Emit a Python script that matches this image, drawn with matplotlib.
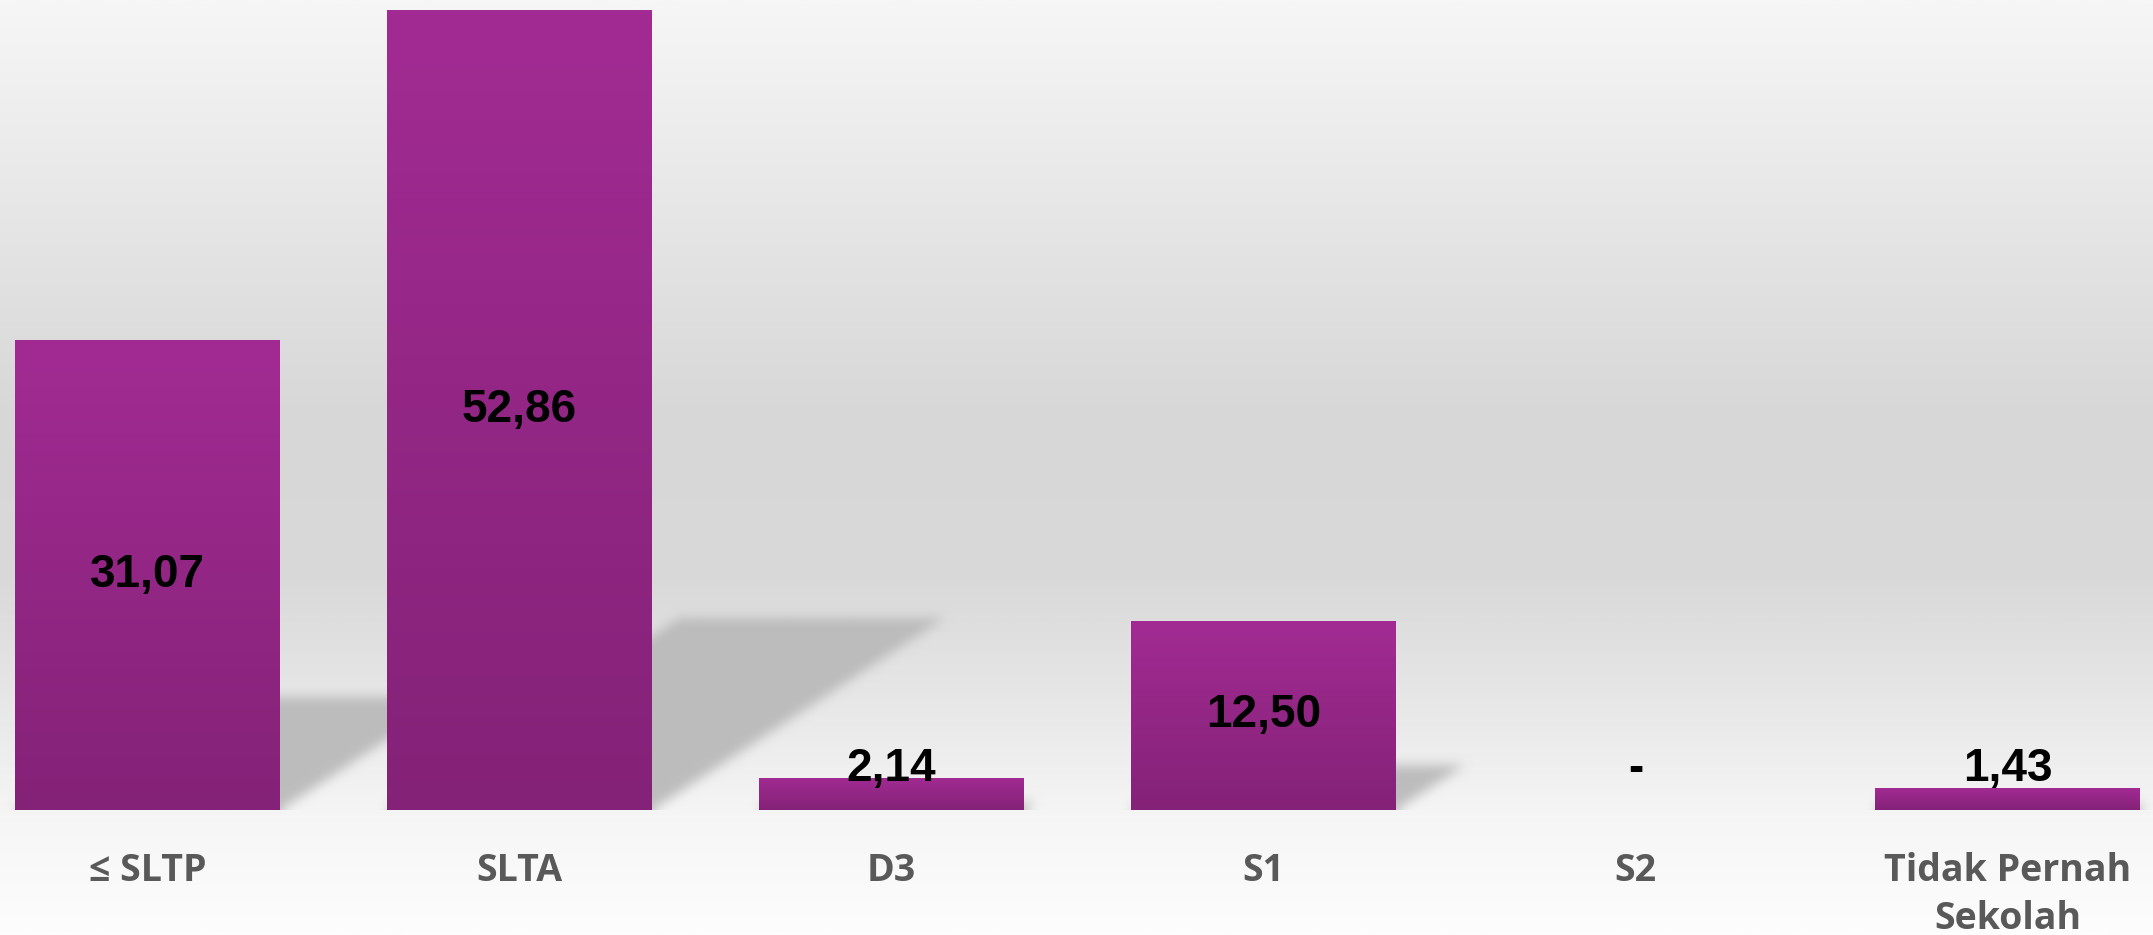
#!/usr/bin/env python3
"""Bar chart: share by education level, purple gradient bars with soft shadows."""

import matplotlib.pyplot as plt
import numpy as np
from matplotlib.colors import LinearSegmentedColormap

categories = ["≤ SLTP", "SLTA", "D3", "S1", "S2", "Tidak Pernah\nSekolah"]
values = [31.07, 52.86, 2.14, 12.50, 0.0, 1.43]
labels = ["31,07", "52,86", "2,14", "12,50", "-", "1,43"]

W, H, DPI = 2153, 935, 100
BAR_W = 0.712
TOP_C, BOT_C = "#a22b93", "#842277"


def box_blur(a, r, axis):
    c = np.cumsum(np.pad(a, [(r + 1, r) if i == axis else (0, 0) for i in range(a.ndim)], mode="edge"), axis=axis)
    n = a.shape[axis]
    hi = np.take(c, np.arange(2 * r + 1, 2 * r + 1 + n), axis=axis)
    lo = np.take(c, np.arange(0, n), axis=axis)
    return (hi - lo) / (2 * r + 1)


def main() -> None:
    fig = plt.figure(figsize=(W / DPI, H / DPI), dpi=DPI)

    # background gradient over the whole figure
    bg = fig.add_axes([0, 0, 1, 1], zorder=0)
    bg_cmap = LinearSegmentedColormap.from_list("bg", [
        (0.0, "#f6f6f6"), (0.12, "#eeeeee"), (0.33, "#dfdfdf"), (0.45, "#d7d7d7"),
        (0.62, "#d9d9d9"), (0.76, "#e8e8e8"), (0.88, "#f6f6f6"), (1.0, "#fdfdfd")])
    bg.imshow(np.linspace(0, 1, 512).reshape(-1, 1), cmap=bg_cmap, aspect="auto",
              extent=(0, 1, 1, 0), interpolation="bilinear")
    bg.set_axis_off()

    ax = fig.add_axes([0, 125 / H, 1, 810 / H], zorder=1)
    ax.patch.set_alpha(0)
    x = np.arange(len(categories))
    xlim = (-147.5 / 372, (W - 147.5) / 372)
    ylim = (0, 53.5)

    # blurred skewed shadows
    nx, ny = W, 810
    xs = xlim[0] + (np.arange(nx) + 0.5) / nx * (xlim[1] - xlim[0])
    ys = ylim[1] - (np.arange(ny) + 0.5) / ny * (ylim[1] - ylim[0])
    XX, YY = np.meshgrid(xs, ys)
    mask = np.zeros((ny, nx))
    skew = 0.062
    for xi, v in zip(x, values):
        if v <= 0:
            continue
        sh = 0.24 * v
        inside = (YY >= 0) & (YY <= sh) & (XX >= xi - BAR_W / 2 + skew * YY) & (XX <= xi + BAR_W / 2 + skew * YY)
        mask = np.maximum(mask, inside.astype(float))
    for _ in range(2):
        mask = box_blur(mask, 6, 0)
        mask = box_blur(mask, 6, 1)
    shadow = np.zeros((ny, nx, 4))
    shadow[..., :3] = 0.73
    shadow[..., 3] = mask * 0.95
    ax.imshow(shadow, extent=(xlim[0], xlim[1], ylim[0], ylim[1]), aspect="auto", zorder=1, interpolation="nearest")

    # bars with vertical gradient
    grad_cmap = LinearSegmentedColormap.from_list("bar", [BOT_C, TOP_C])
    bars = ax.bar(x, values, width=BAR_W, color="none", edgecolor="none", zorder=2)
    for b, v in zip(bars, values):
        if v <= 0:
            continue
        im = ax.imshow(np.linspace(1, 0, 256).reshape(-1, 1), cmap=grad_cmap, aspect="auto",
                       extent=(b.get_x(), b.get_x() + b.get_width(), 0, v), zorder=2, interpolation="bilinear")
        im.set_clip_path(b)

    for xi, v, lab in zip(x, values, labels):
        ax.text(xi, max(v / 2, 2.7), lab, ha="center", va="center", fontsize=33,
                fontweight="bold", family="Liberation Sans", color="black", zorder=3)

    ax.set_xlim(*xlim)
    ax.set_ylim(*ylim)
    ax.set_xticks(x)
    ax.set_xticklabels(categories, fontsize=27, fontweight="bold", family="Open Sans",
                       color="#595959", linespacing=1.37)
    ax.tick_params(axis="x", length=0, pad=30)
    ax.set_yticks([])
    for s in ax.spines.values():
        s.set_visible(False)

    fig.savefig("out.png", dpi=DPI)


if __name__ == "__main__":
    main()
